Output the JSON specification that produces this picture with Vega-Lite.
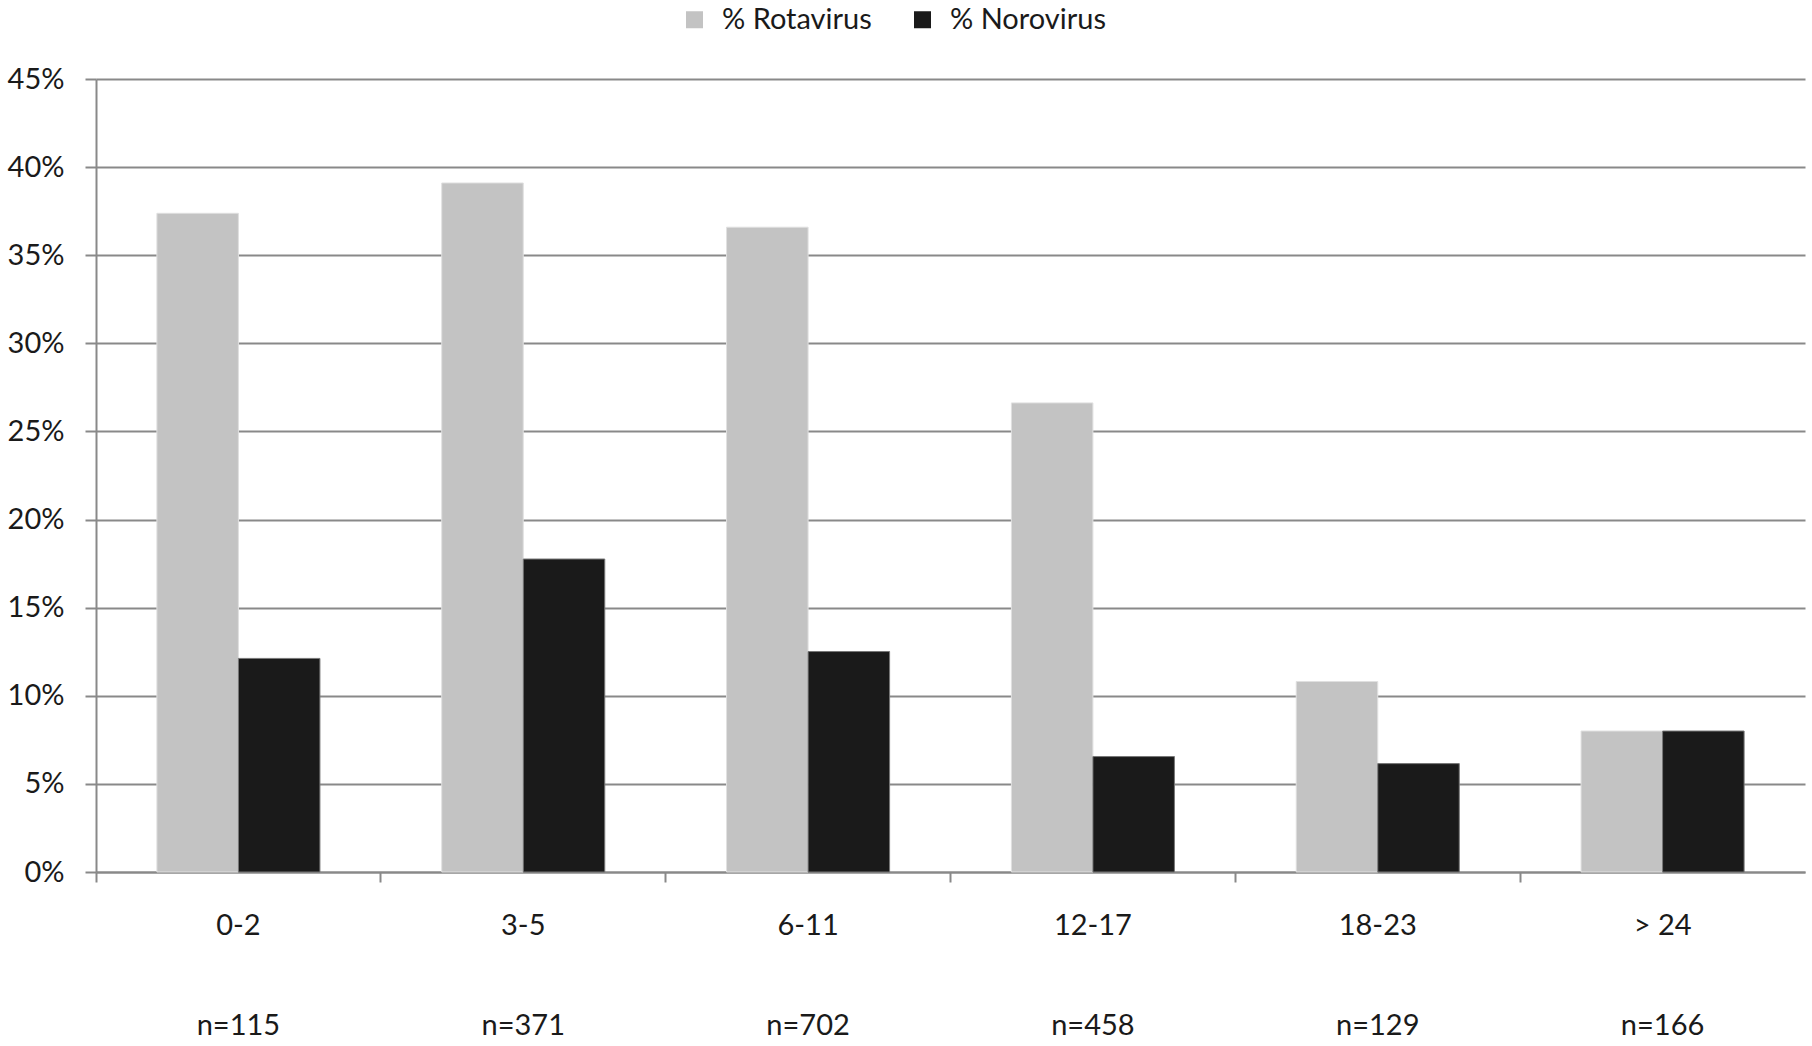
{
  "$schema": "https://vega.github.io/schema/vega-lite/v6.json",
  "width": 1709,
  "height": 793,
  "autosize": {"type": "none"},
  "padding": {"left": 96, "top": 79, "right": 7, "bottom": 174},
  "background": "white",
  "config": {
    "font": "Lato",
    "view": {"stroke": null},
    "axis": {"labelFont": "Lato", "labelFontSize": 29, "labelColor": "#1a1a1a", "domainColor": "#898989", "tickColor": "#898989", "gridColor": "#898989", "domainWidth": 2, "tickWidth": 2, "gridWidth": 2, "titleFontSize": 0}
  },
  "data": {
    "values": [
      {"age": "0-2|n=115", "series": "% Rotavirus", "pct": 0.3738},
      {"age": "0-2|n=115", "series": "% Norovirus", "pct": 0.1212},
      {"age": "3-5|n=371", "series": "% Rotavirus", "pct": 0.391},
      {"age": "3-5|n=371", "series": "% Norovirus", "pct": 0.1776},
      {"age": "6-11|n=702", "series": "% Rotavirus", "pct": 0.3659},
      {"age": "6-11|n=702", "series": "% Norovirus", "pct": 0.1251},
      {"age": "12-17|n=458", "series": "% Rotavirus", "pct": 0.2662},
      {"age": "12-17|n=458", "series": "% Norovirus", "pct": 0.0655},
      {"age": "18-23|n=129", "series": "% Rotavirus", "pct": 0.1081},
      {"age": "18-23|n=129", "series": "% Norovirus", "pct": 0.0615},
      {"age": "> 24|n=166", "series": "% Rotavirus", "pct": 0.08},
      {"age": "> 24|n=166", "series": "% Norovirus", "pct": 0.08}
    ]
  },
  "mark": {"type": "bar", "strokeWidth": 1},
  "encoding": {
    "x": {
      "field": "age",
      "type": "nominal",
      "sort": null,
      "title": null,
      "scale": {"paddingInner": 0, "paddingOuter": 0},
      "axis": {
        "labelAngle": 0,
        "grid": false,
        "tickSize": 10,
        "bandPosition": 0,
        "labelPadding": 29,
        "labelLineHeight": 100,
        "labelExpr": "split(datum.value, '|')"
      }
    },
    "xOffset": {
      "field": "series",
      "type": "nominal",
      "sort": ["% Rotavirus", "% Norovirus"],
      "scale": {"paddingInner": 0, "paddingOuter": 0.747}
    },
    "y": {
      "field": "pct",
      "type": "quantitative",
      "title": null,
      "scale": {"domain": [0, 0.45], "nice": false},
      "axis": {"values": [0, 0.05, 0.1, 0.15, 0.2, 0.25, 0.3, 0.35, 0.4, 0.45], "format": ".0%", "tickSize": 11, "labelPadding": 21}
    },
    "color": {
      "field": "series",
      "type": "nominal",
      "sort": ["% Rotavirus", "% Norovirus"],
      "scale": {"domain": ["% Rotavirus", "% Norovirus"], "range": ["#c3c3c3", "#1a1a1a"]},
      "legend": {
        "title": null,
        "orient": "none",
        "direction": "horizontal",
        "legendX": 584,
        "legendY": -74,
        "padding": 0,
        "symbolType": "square",
        "symbolSize": 289,
        "symbolStrokeWidth": 0,
        "labelFontSize": 29,
        "labelFont": "Lato",
        "labelColor": "#1a1a1a",
        "labelOffset": 13,
        "labelLimit": 500,
        "columnPadding": 36
      }
    },
    "stroke": {
      "field": "series",
      "type": "nominal",
      "scale": {"domain": ["% Rotavirus", "% Norovirus"], "range": ["#e0e0e0", "#777777"]},
      "legend": null
    }
  }
}
